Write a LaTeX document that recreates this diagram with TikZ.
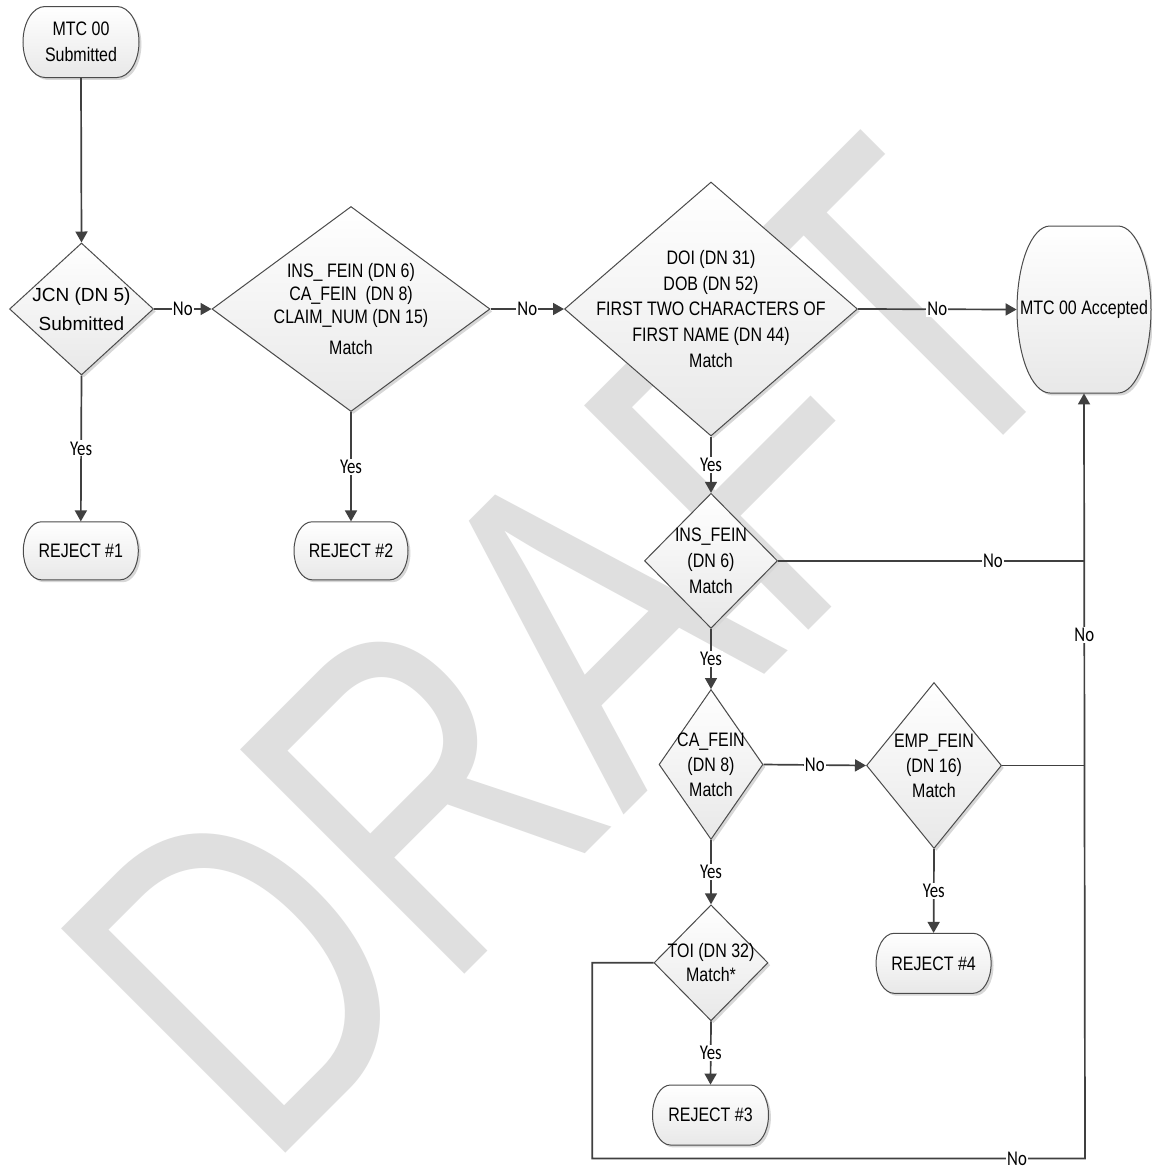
\documentclass[tikz,border=0pt]{standalone}
\usepackage{fontspec}
\setmainfont{Liberation Sans}
\newfontfamily\narrowfont{Liberation Sans}[FakeStretch=0.82]
\newfontfamily\lblfont{Carlito}[FakeStretch=0.8]
\newfontfamily\wmfont{Liberation Sans}
\usetikzlibrary{shapes.geometric,arrows.meta,shadows}
\definecolor{linec}{RGB}{64,64,64}
\definecolor{edgec}{RGB}{75,75,75}
\definecolor{wmc}{RGB}{223,223,223}
\definecolor{shadc}{RGB}{215,215,215}
\newcommand{\dfont}[1]{\narrowfont\fontsize{9.75pt}{#1}\selectfont}
\tikzset{
  conn/.style={draw=linec, line width=0.85pt},
  arr/.style={conn, -{Triangle[length=5.5pt,width=6pt]}},
  lbl/.style={font=\lblfont\fontsize{10.5pt}{11pt}\selectfont, fill=white, inner sep=0.6pt, text=black},
  dia/.style={diamond, draw=edgec, line width=0.5pt, top color=white, bottom color=black!9,
    inner sep=0pt, drop shadow={shadow xshift=1.2pt, shadow yshift=-1.2pt, fill=shadc, opacity=1}},
  dtxt/.style={align=center, inner sep=0pt, text=black},
  termline/.style={draw=edgec, line width=0.5pt, top color=white, bottom color=black!9},
  termtxt/.style={inner sep=0pt, align=center, text=black, font=\dfont{13pt}},
}
% name, cx, cy, w, h, rx, text
\newcommand{\termnode}[7]{%
  \pgfmathsetmacro{\tmpL}{#2-#4/2+#6}%
  \pgfmathsetmacro{\tmpR}{#2+#4/2-#6}%
  \pgfmathsetmacro{\tmpT}{-#3+#5/2}%
  \pgfmathsetmacro{\tmpB}{-#3-#5/2}%
  \pgfmathsetmacro{\tmpRX}{#6*0.5}%
  \pgfmathsetmacro{\tmpRY}{#5*0.25}%
  \pgfmathsetmacro{\tmpW}{#4*0.5}%
  \pgfmathsetmacro{\tmpH}{#5*0.5}%
  \fill[shadc, xshift=1.2pt, yshift=-1.2pt] (\tmpL,\tmpT) -- (\tmpR,\tmpT)
    arc[start angle=90, end angle=-90, x radius=\tmpRX pt, y radius=\tmpRY pt]
    -- (\tmpL,\tmpB)
    arc[start angle=270, end angle=90, x radius=\tmpRX pt, y radius=\tmpRY pt] -- cycle;
  \path[termline] (\tmpL,\tmpT) -- (\tmpR,\tmpT)
    arc[start angle=90, end angle=-90, x radius=\tmpRX pt, y radius=\tmpRY pt]
    -- (\tmpL,\tmpB)
    arc[start angle=270, end angle=90, x radius=\tmpRX pt, y radius=\tmpRY pt] -- cycle;
  \node[termtxt, minimum width=\tmpW pt, minimum height=\tmpH pt] (#1) at (#2,-#3) {#7};
}
\begin{document}
\begin{tikzpicture}[x=0.5pt,y=0.5pt]
\useasboundingbox (0,0) rectangle (1152,-1169);
\fill[white] (0,0) rectangle (1152,-1169);

% watermark
\begin{scope}[shift={(284.7,-1154.2)}, rotate=45, xscale=0.76, transform shape]
  \node[anchor=base west, inner sep=0pt, text=wmc, font=\wmfont\fontsize{230.5pt}{230.5pt}\selectfont] (wm) at (-36.4,0) {DRAFT};
\end{scope}

% terminators
\termnode{start}{81}{42}{116}{71}{22}{MTC 00\\Submitted}
\termnode{rej1}{80.8}{550.8}{115}{58}{18}{REJECT \#1}
\termnode{rej2}{351}{550.8}{114}{58}{18}{REJECT \#2}
\termnode{rej3}{710.5}{1115}{116}{60}{18}{REJECT \#3}
\termnode{rej4}{933.6}{963.3}{115}{60}{18}{REJECT \#4}
\termnode{acc}{1084}{309.5}{134}{167}{33}{MTC 00 Accepted}

% diamonds
\node[dia, minimum width=72pt, minimum height=66pt,
  label={[dtxt, font=\fontsize{9.5pt}{14.5pt}\selectfont]center:{JCN (DN 5)\\Submitted}}] (jcn) at (81.5,-309) {};
\node[dia, minimum width=139pt, minimum height=102.5pt,
  label={[dtxt, font=\dfont{11.5pt}]center:{INS\_ FEIN (DN 6)\\CA\_FEIN~ (DN 8)\\CLAIM\_NUM (DN 15)\\[4.3pt]Match}}] (ins3) at (351,-309) {};
\node[dia, minimum width=146.5pt, minimum height=127pt,
  label={[dtxt, font=\dfont{12.9pt}]center:{DOI (DN 31)\\DOB (DN 52)\\FIRST TWO CHARACTERS OF\\FIRST NAME (DN 44)\\Match}}] (big) at (711,-309) {};
\node[dia, minimum width=66.5pt, minimum height=67.5pt,
  label={[dtxt, font=\dfont{12.9pt}]center:{INS\_FEIN\\(DN 6)\\Match}}] (insf) at (711,-560.8) {};
\node[dia, minimum width=52pt, minimum height=75pt,
  label={[dtxt, font=\dfont{12.5pt}]center:{CA\_FEIN\\(DN 8)\\Match}}] (cafe) at (711,-764.5) {};
\node[dia, minimum width=67.5pt, minimum height=83pt,
  label={[dtxt, font=\dfont{12.5pt}]center:{EMP\_FEIN\\(DN 16)\\Match}}] (emp) at (934,-765.5) {};
\node[dia, minimum width=57pt, minimum height=58pt,
  label={[dtxt, font=\dfont{12.2pt}]center:{TOI (DN 32)\\Match*}}] (toi) at (711,-962.8) {};

% junction coordinates
\coordinate (j1) at (1085,-560.8);
\coordinate (j2) at (1085,-765.5);
\coordinate (c1) at (592.3,-962.8);
\coordinate (c2) at (592.3,-1158.5);
\coordinate (c3) at (1085,-1158.5);

% connectors
\draw[arr] (start.south) -- (jcn.north);
\draw[arr] (jcn.east) -- node[lbl, midway] {No} (ins3.west);
\draw[arr] (jcn.south) -- node[lbl, midway] {Yes} (rej1.north);
\draw[arr] (ins3.east) -- node[lbl, midway] {No} (big.west);
\draw[arr] (ins3.south) -- node[lbl, midway] {Yes} (rej2.north);
\draw[arr] (big.east) -- node[lbl, midway] {No} (acc.west);
\draw[arr] (big.south) -- node[lbl, midway] {Yes} (insf.north);
\draw[conn] (insf.east) -- node[lbl, pos=0.70] {No} (j1);
\draw[arr] (insf.south) -- node[lbl, midway] {Yes} (cafe.north);
\draw[arr] (cafe.east) -- node[lbl, midway] {No} (emp.west);
\draw[conn] (emp.east) -- (j2);
\draw[arr] (cafe.south) -- node[lbl, midway] {Yes} (toi.north);
\draw[arr] (emp.south) -- node[lbl, midway] {Yes} (rej4.north);
\draw[arr] (toi.south) -- node[lbl, midway] {Yes} (rej3.north);
\draw[arr] (toi.west) -- (c1) -- (c2) -- node[lbl, pos=0.862] {No} (c3)
  -- node[lbl, pos=0.684] {No} (acc.south);
\end{tikzpicture}
\end{document}
